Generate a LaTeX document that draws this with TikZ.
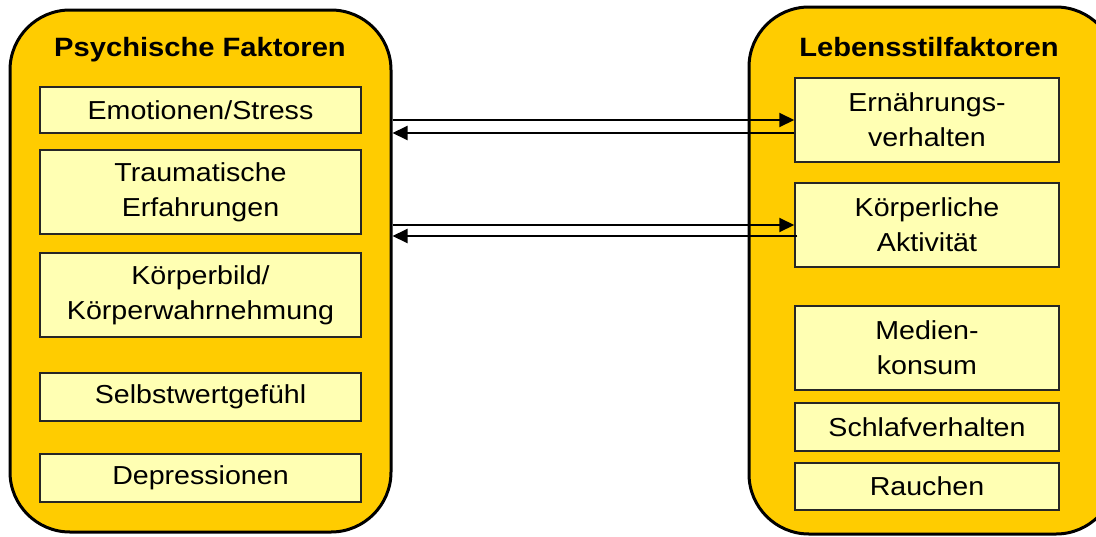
\documentclass[tikz,border=0pt]{standalone}
\usepackage{fontspec}
\setmainfont{Liberation Sans}[FakeStretch=1.1]
\usetikzlibrary{arrows.meta}
\definecolor{panelfill}{HTML}{FFCC00}
\definecolor{itemfill}{HTML}{FFFFB3}
\begin{document}
\begin{tikzpicture}[x=1pt,y=-1pt,
  panelbox/.style={draw=black, line width=3pt, fill=panelfill, rounded corners=60pt, rectangle, inner sep=0pt},
  itembox/.style={draw=black!85, line width=1.5pt, fill=itemfill, rectangle, inner sep=0pt, align=center,
    font=\fontsize{26}{35}\selectfont},
  paneltitle/.style={font=\bfseries\fontsize{26.5}{32}\selectfont, inner sep=0pt},
  link/.style={draw=black, line width=2pt, -{Triangle[length=15pt,width=14pt]}}]
\useasboundingbox (0,0) rectangle (1096,536);
\begin{scope}
\clip (0,0) rectangle (1096,536);
% panels
\node[panelbox, minimum width=381pt, minimum height=522pt] (L) at (200.5,271) {};
\node[panelbox, minimum width=367pt, minimum height=527pt] (R) at (932.5,270.5) {};
\end{scope}
\node[paneltitle] (Lt) at (200,50) {Psychische Faktoren};
\node[paneltitle] (Rt) at (929,47) {Lebensstilfaktoren};
% left items
\node[itembox, minimum width=321pt, minimum height=46pt] (emo) at (200.5,110) {Emotionen/Stress};
\node[itembox, minimum width=321pt, minimum height=84pt] (trauma) at (200.5,192) {Traumatische\\Erfahrungen};
\node[itembox, minimum width=321pt, minimum height=84pt] (koerper) at (200.5,295) {Körperbild/\\Körperwahrnehmung};
\node[itembox, minimum width=321pt, minimum height=48pt] (selbst) at (200.5,397) {Selbstwertgefühl};
\node[itembox, minimum width=321pt, minimum height=48pt] (depr) at (200.5,478) {Depressionen};
% right items
\node[itembox, minimum width=264pt, minimum height=84pt] (ern) at (927,120) {Ernährungs-\\verhalten};
\node[itembox, minimum width=264pt, minimum height=84pt] (akt) at (927,225) {Körperliche\\Aktivität};
\node[itembox, minimum width=264pt, minimum height=84pt] (med) at (927,348) {Medien-\\konsum};
\node[itembox, minimum width=264pt, minimum height=48pt] (schlaf) at (927,427) {Schlafverhalten};
\node[itembox, minimum width=264pt, minimum height=47pt] (rauch) at (927,486.5) {Rauchen};
% connectors
\draw[link] (L.east |- 0,120) -- (ern.west |- 0,120);
\draw[link] (ern.west |- 0,133) -- (L.east |- 0,133);
\draw[link] (L.east |- 0,225) -- (akt.west |- 0,225);
\draw[link] ([xshift=3pt]akt.west |- 0,236) -- (L.east |- 0,236);
\end{tikzpicture}
\end{document}
